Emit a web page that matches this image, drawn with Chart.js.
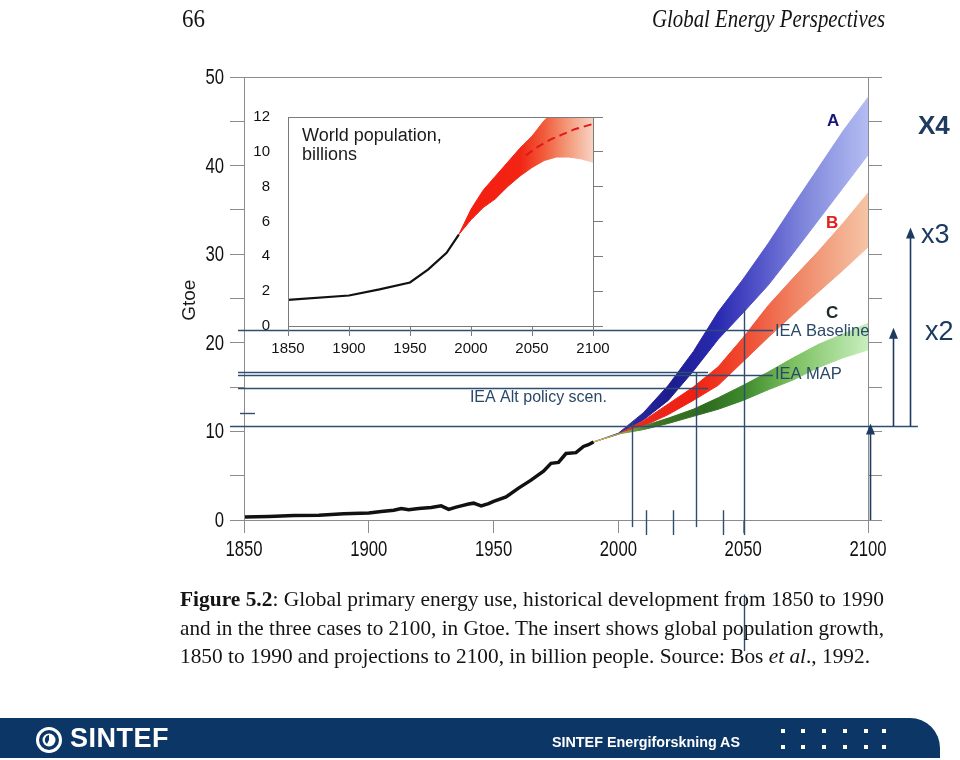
<!DOCTYPE html>
<html>
<head>
<meta charset="utf-8">
<script src="https://cdn.jsdelivr.net/npm/chart.js@4.4.1/dist/chart.umd.min.js"></script>
<style>
  html, body { margin: 0; padding: 0; background: #fff; }
  #page { position: relative; width: 960px; height: 760px; overflow: hidden; font-family: "Liberation Sans", Arial, sans-serif; }
  #main { position: absolute; left: 0; top: 0; }
  #inset { position: absolute; left: 240px; top: 90px; }
  .serif { position: absolute; font-family: "Liberation Serif", "Times New Roman", serif; color: #141414; white-space: nowrap; transform-origin: 0 0; }
  .head { top: 6px; font-size: 25px; line-height: 25px; }
  .cap { left: 180px; font-size: 21px; line-height: 21px; }
  #bar { position: absolute; left: 0; top: 718px; width: 940px; height: 40px; background: #0b3665; border-top-right-radius: 30px; }
  #bar .brand { position: absolute; left: 70px; top: 5px; font-size: 27px; font-weight: bold; color: #fff; letter-spacing: 0.5px; }
  #bar .org { position: absolute; left: 552px; top: 16px; font-size: 14px; font-weight: bold; color: #fff; white-space: nowrap; transform-origin: 0 0; }
  #bar .logo { position: absolute; left: 35px; top: 8px; }
  .dot { position: absolute; width: 4px; height: 4px; background: #fff; }
</style>
</head>
<body>
<div id="page">
  <canvas id="main" width="960" height="760"></canvas>
  <canvas id="inset" width="380" height="275"></canvas>

  <div class="serif head" style="left:182px" data-w="23">66</div>
  <div class="serif head" style="left:652px; font-style:italic" data-w="233">Global Energy Perspectives</div>

  <div class="serif cap" style="top:589px" data-w="704"><b>Figure 5.2</b>: Global primary energy use, historical development from 1850 to 1990</div>
  <div class="serif cap" style="top:617.5px" data-w="704">and in the three cases to 2100, in Gtoe. The insert shows global population growth,</div>
  <div class="serif cap" style="top:646px" data-w="690">1850 to 1990 and projections to 2100, in billion people. Source: Bos <i>et al</i>., 1992.</div>

  <div id="bar">
    <svg class="logo" width="28" height="28" viewBox="0 0 28 28">
      <circle cx="14" cy="14" r="11.5" fill="none" stroke="#fff" stroke-width="3"/>
      <circle cx="14" cy="14" r="6.5" fill="#fff"/>
      <path d="M14 9 A5 5 0 0 0 12 18 L14 14 Z" fill="#0b3665"/>
    </svg>
    <div class="brand">SINTEF</div>
    <div class="org" data-w="188">SINTEF Energiforskning AS</div>
  </div>
</div>

<script>
// historisk energibruk (Gtoe)
const histYears = [1850, 1860, 1870, 1880, 1890, 1900, 1905, 1910, 1913, 1916, 1920, 1925, 1929, 1932, 1935, 1937, 1940, 1942, 1945, 1948, 1950, 1955, 1960, 1965, 1970, 1973, 1976, 1979, 1983, 1986, 1988, 1990];
const histEnergy = [0.35, 0.4, 0.5, 0.55, 0.7, 0.8, 0.95, 1.1, 1.3, 1.15, 1.3, 1.4, 1.6, 1.2, 1.45, 1.6, 1.8, 1.9, 1.6, 1.85, 2.1, 2.6, 3.6, 4.5, 5.5, 6.4, 6.5, 7.5, 7.6, 8.3, 8.5, 8.8];

// scenarier A, B, C (bånd)
const scenYears = [1990, 2000, 2010, 2020, 2030, 2040, 2050, 2060, 2070, 2080, 2090, 2100];
const aHigh = [8.8, 9.8, 12.1, 15.2, 19.0, 23.5, 27.2, 31.2, 35.5, 39.7, 43.9, 47.7];
const aLow  = [8.8, 9.7, 11.3, 13.5, 16.8, 20.4, 23.4, 26.5, 30.1, 33.8, 37.5, 41.2];
const bHigh = [8.8, 9.7, 11.2, 13.1, 15.0, 17.3, 20.6, 24.2, 27.3, 30.3, 33.5, 36.9];
const bLow  = [8.8, 9.7, 10.6, 11.9, 13.5, 15.2, 17.9, 20.6, 23.2, 25.7, 28.2, 30.8];
const cHigh = [8.8, 9.7, 10.6, 11.5, 12.5, 13.8, 15.2, 16.7, 18.3, 19.8, 21.0, 22.2];
const cLow  = [8.8, 9.7, 10.2, 10.9, 11.7, 12.5, 13.5, 14.7, 15.8, 17.2, 18.3, 19.2];

// befolkning (milliarder)
const popYears = [1850, 1900, 1925, 1950, 1965, 1980, 1990];
const popValues = [1.5, 1.75, 2.1, 2.5, 3.25, 4.2, 5.25];
const popBandYears = [1990, 2000, 2010, 2020, 2030, 2040, 2050, 2060, 2070, 2080, 2090, 2100];
const popHigh = [5.25, 6.7, 7.8, 8.6, 9.4, 10.2, 10.9, 11.8, 12.4, 12.8, 13.0, 13.1];
const popLow  = [5.25, 6.1, 6.8, 7.3, 8.0, 8.6, 9.1, 9.5, 9.7, 9.7, 9.6, 9.4];
const popMidYears = [2045, 2055, 2065, 2075, 2085, 2100];
const popMid = [9.8, 10.3, 10.7, 11.0, 11.3, 11.6];

// IEA-linjer: [Gtoe, fra år, til år]
const guideH = [[21.4, 1847.6, 2061.9], [16.7, 1847.6, 2035.9], [16.4, 1847.6, 2061.9], [14.9, 1847.6, 2035.9], [12.1, 1848.4, 1854.4], [10.6, 1844.4, 2120]];
// loddrette linjer: [år, topp, bunn]
const guideV = [[2005.4, 11.1, -0.8], [2031.1, 16.7, -0.8], [2050.2, 23.9, -1.7], [2011.1, 1.1, -1.7], [2021.9, 1.1, -1.7], [2041.9, 1.1, -1.7], [2050.2, -8.4, -14.8]];
// piler: [år, fra, til]
const arrows = [[2100.8, 0, 10.9], [2110, 10.6, 21.7], [2116.8, 10.6, 33.0]];

const pts = (xs, ys) => xs.map((x, i) => ({ x: x, y: ys[i] }));
const sans = "'Liberation Sans', Arial, sans-serif";
const lineCol = '#2f4d70';
const frameCol = '#8c8c8c';

function gradient(stops, scaleId) {
  return function (context) {
    const chart = context.chart;
    if (!chart.chartArea) return stops[0][1];
    const xs = chart.scales[scaleId || 'x'];
    const x0 = xs.getPixelForValue(stops[0][0]);
    const x1 = xs.getPixelForValue(stops[stops.length - 1][0]);
    const g = chart.ctx.createLinearGradient(x0, 0, x1, 0);
    stops.forEach(s => g.addColorStop((xs.getPixelForValue(s[0]) - x0) / (x1 - x0), s[1]));
    return g;
  };
}

const gradA = gradient([[1990, '#3a3ab0'], [2020, '#1c1c8e'], [2040, '#2a2ab2'], [2055, '#5050c8'], [2075, '#8088dc'], [2100, '#b4bcf2']]);
const gradB = gradient([[1990, '#e03030'], [2030, '#f02010'], [2050, '#f04a30'], [2070, '#f08262'], [2085, '#f2a484'], [2100, '#f6c4a6']]);
const gradC = gradient([[1990, '#c8c870'], [2005, '#7a9a40'], [2015, '#3f7424'], [2035, '#2f6b1f'], [2050, '#3d8a2c'], [2070, '#7cc060'], [2100, '#c8efbe']]);

function band(low, high, grad) {
  return [
    { data: pts(scenYears, low), borderColor: grad, borderWidth: 1, pointRadius: 0, fill: false },
    { data: pts(scenYears, high), borderColor: grad, backgroundColor: grad, borderWidth: 1, pointRadius: 0, fill: '-1' }
  ];
}

// smale aksetall som i den skannede figuren
function squeezedText(ctx, text, px, py, align) {
  ctx.save();
  ctx.translate(px, py);
  ctx.scale(0.76, 1);
  ctx.textAlign = align;
  ctx.fillText(text, 0, 0);
  ctx.restore();
}

const mainDecor = {
  id: 'mainDecor',
  afterDatasetsDraw(chart) {
    const { ctx, chartArea: a, scales: { x, y } } = chart;
    ctx.save();
    ctx.strokeStyle = frameCol;
    ctx.lineWidth = 1;
    ctx.strokeRect(Math.round(a.left) + 0.5, Math.round(a.top) + 0.5, Math.round(a.right - a.left), Math.round(a.bottom - a.top));

    // akseverdier
    ctx.fillStyle = '#111';
    ctx.font = '22px ' + sans;
    ctx.textBaseline = 'middle';
    x.ticks.forEach(t => squeezedText(ctx, String(t.value), x.getPixelForValue(t.value), a.bottom + 30, 'center'));
    y.ticks.forEach(t => {
      if (t.value % 10 === 0) squeezedText(ctx, String(t.value), a.left - 20, y.getPixelForValue(t.value) + 1, 'right');
    });

    ctx.strokeStyle = lineCol;
    ctx.lineWidth = 1.4;
    guideH.forEach(h => {
      ctx.beginPath();
      ctx.moveTo(x.getPixelForValue(h[1]), Math.round(y.getPixelForValue(h[0])) + 0.5);
      ctx.lineTo(x.getPixelForValue(h[2]), Math.round(y.getPixelForValue(h[0])) + 0.5);
      ctx.stroke();
    });
    guideV.forEach(v => {
      ctx.beginPath();
      ctx.moveTo(Math.round(x.getPixelForValue(v[0])) + 0.5, y.getPixelForValue(v[1]));
      ctx.lineTo(Math.round(x.getPixelForValue(v[0])) + 0.5, y.getPixelForValue(v[2]));
      ctx.stroke();
    });

    ctx.fillStyle = '#1d3a60';
    ctx.strokeStyle = '#1d3a60';
    ctx.lineWidth = 1.6;
    arrows.forEach(r => {
      const px = Math.round(x.getPixelForValue(r[0])) + 0.5;
      const y0 = y.getPixelForValue(r[1]), y1 = y.getPixelForValue(r[2]);
      ctx.beginPath();
      ctx.moveTo(px, y0);
      ctx.lineTo(px, y1 + 8);
      ctx.stroke();
      ctx.beginPath();
      ctx.moveTo(px, y1);
      ctx.lineTo(px - 4.5, y1 + 11);
      ctx.lineTo(px + 4.5, y1 + 11);
      ctx.closePath();
      ctx.fill();
    });

    ctx.textBaseline = 'middle';
    ctx.textAlign = 'left';
    ctx.fillStyle = '#2a4868';
    ctx.font = '16.5px ' + sans;
    ctx.fillText('IEA Baseline', x.getPixelForValue(2062.7), y.getPixelForValue(21.3));
    ctx.fillText('IEA MAP', x.getPixelForValue(2062.7), y.getPixelForValue(16.4));
    ctx.font = '16px ' + sans;
    ctx.fillText('IEA Alt policy scen.', x.getPixelForValue(1940.5), y.getPixelForValue(13.8));

    ctx.textAlign = 'center';
    ctx.font = 'bold 17px ' + sans;
    ctx.fillStyle = '#16167a';
    ctx.fillText('A', x.getPixelForValue(2086), y.getPixelForValue(45.0));
    ctx.fillStyle = '#e2201c';
    ctx.fillText('B', x.getPixelForValue(2085.6), y.getPixelForValue(33.5));
    ctx.fillStyle = '#1e2a22';
    ctx.fillText('C', x.getPixelForValue(2085.6), y.getPixelForValue(23.3));

    ctx.textAlign = 'left';
    ctx.fillStyle = '#1d3a60';
    ctx.font = 'bold 26px ' + sans;
    ctx.fillText('X4', x.getPixelForValue(2120), y.getPixelForValue(44.4));
    ctx.font = '27px ' + sans;
    ctx.fillText('x3', x.getPixelForValue(2121.2), y.getPixelForValue(32.1));
    ctx.fillText('x2', x.getPixelForValue(2122.8), y.getPixelForValue(21.2));

    ctx.fillStyle = '#1a1a1a';
    ctx.font = '19px ' + sans;
    ctx.textAlign = 'center';
    ctx.translate(x.getPixelForValue(1828.4), y.getPixelForValue(24.8));
    ctx.rotate(-Math.PI / 2);
    ctx.fillText('Gtoe', 0, 0);
    ctx.restore();
  }
};

new Chart(document.getElementById('main'), {
  type: 'line',
  data: {
    datasets: [
      { data: pts(histYears, histEnergy), borderColor: '#111', borderWidth: 3.5, pointRadius: 0, fill: false },
      ...band(cLow, cHigh, gradC),
      ...band(bLow, bHigh, gradB),
      ...band(aLow, aHigh, gradA)
    ]
  },
  options: {
    responsive: false,
    animation: false,
    layout: { padding: { top: 77, right: 78, left: 0, bottom: 0 } },
    plugins: { legend: { display: false }, tooltip: { enabled: false } },
    scales: {
      x: {
        type: 'linear', min: 1850, max: 2100,
        afterFit(s) { s.height = 240; },
        ticks: { stepSize: 50, display: false },
        grid: { drawOnChartArea: false, tickLength: 13, color: frameCol },
        border: { color: frameCol }
      },
      y: {
        min: 0, max: 50,
        afterFit(s) { s.width = 244; },
        ticks: { stepSize: 5, display: false },
        grid: { drawOnChartArea: false, tickLength: 14, color: frameCol },
        border: { color: frameCol }
      },
      y2: {
        position: 'right', min: 0, max: 50,
        afterFit(s) { s.width = 14; },
        ticks: { stepSize: 5, display: false },
        grid: { drawOnChartArea: false, tickLength: 14, color: frameCol },
        border: { color: frameCol }
      }
    }
  },
  plugins: [mainDecor]
});

// innfelt: verdens befolkning
const gradPop = gradient([[1990, '#f41e10'], [2040, '#f22414'], [2060, '#f05c3c'], [2080, '#f39c7c'], [2100, '#f8d2c2']]);

const insetDecor = {
  id: 'insetDecor',
  beforeDatasetsDraw(chart) {
    const { ctx, chartArea: a } = chart;
    ctx.save();
    ctx.fillStyle = '#fff';
    ctx.fillRect(a.left, a.top, a.right - a.left, a.bottom - a.top);
    ctx.restore();
  },
  afterDatasetsDraw(chart) {
    const { ctx, chartArea: a, scales: { x, y } } = chart;
    ctx.save();
    ctx.strokeStyle = '#7a7a7a';
    ctx.lineWidth = 1;
    ctx.strokeRect(Math.round(a.left) + 0.5, Math.round(a.top) + 0.5, Math.round(a.right - a.left), Math.round(a.bottom - a.top));
    ctx.fillStyle = '#1a1a1a';
    ctx.font = '18px ' + sans;
    ctx.textBaseline = 'middle';
    ctx.fillText('World population,', x.getPixelForValue(1861.5), y.getPixelForValue(10.93));
    ctx.fillText('billions', x.getPixelForValue(1861.5), y.getPixelForValue(9.8));
    ctx.restore();
  }
};

new Chart(document.getElementById('inset'), {
  type: 'line',
  data: {
    datasets: [
      { data: pts(popMidYears, popMid), borderColor: '#e01818', borderWidth: 2, borderDash: [8, 5], pointRadius: 0, fill: false },
      { data: pts(popYears, popValues), borderColor: '#111', borderWidth: 2.2, pointRadius: 0, fill: false },
      { data: pts(popBandYears, popLow), borderColor: gradPop, borderWidth: 1, pointRadius: 0, fill: false },
      { data: pts(popBandYears, popHigh), borderColor: gradPop, backgroundColor: gradPop, borderWidth: 1, pointRadius: 0, fill: '-1' }
    ]
  },
  options: {
    responsive: false,
    animation: false,
    layout: { padding: { top: 11, right: 17, left: 0, bottom: 0 } },
    plugins: { legend: { display: false }, tooltip: { enabled: false } },
    scales: {
      x: {
        type: 'linear', min: 1850, max: 2100,
        afterFit(s) { s.height = 39; },
        ticks: { stepSize: 50, maxRotation: 0, padding: 4, color: '#111', font: { family: sans, size: 15 }, callback: v => String(v) },
        grid: { drawOnChartArea: false, tickLength: 10, color: '#7a7a7a' },
        border: { color: '#7a7a7a' }
      },
      y: {
        min: 0, max: 12,
        afterFit(s) { s.width = 48; },
        ticks: { stepSize: 2, padding: 18, color: '#111', font: { family: sans, size: 15 }, callback: v => String(v) },
        grid: { drawOnChartArea: false, drawTicks: false },
        border: { color: '#7a7a7a' }
      },
      y2: {
        position: 'right', min: 0, max: 12,
        afterFit(s) { s.width = 10; },
        ticks: { stepSize: 2, display: false },
        grid: { drawOnChartArea: false, tickLength: 10, color: '#7a7a7a' },
        border: { color: '#7a7a7a' }
      }
    }
  },
  plugins: [insetDecor]
});

// bunnlinje: prikker
const bar = document.getElementById('bar');
[781, 801, 822, 843, 864, 882].forEach(px => {
  [11, 27].forEach(py => {
    const d = document.createElement('div');
    d.className = 'dot';
    d.style.left = px + 'px';
    d.style.top = py + 'px';
    bar.appendChild(d);
  });
});

// tilpass tekstbredder til originalen
document.querySelectorAll('[data-w]').forEach(el => {
  const w = el.getBoundingClientRect().width;
  el.style.transform = 'scaleX(' + (el.dataset.w / w) + ')';
});
</script>
</body>
</html>
